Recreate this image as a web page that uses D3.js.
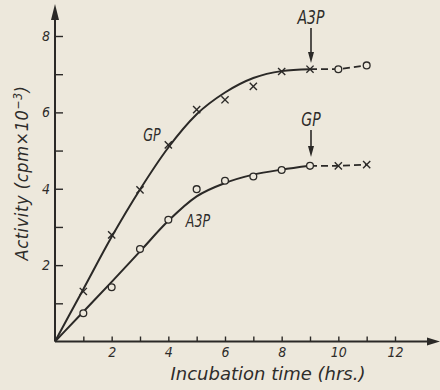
<!DOCTYPE html>
<html>
<head>
<meta charset="utf-8">
<script src="https://cdn.jsdelivr.net/npm/d3@7"></script>
<style>
  html, body { margin: 0; padding: 0; background: #ede8dc; }
  svg { display: block; }
  text { font-family: "DejaVu Sans Condensed", "DejaVu Sans", sans-serif; font-style: italic; fill: #2e2c2a; }
</style>
</head>
<body>
<script>
// Incubation time (hours) at which samples were taken
const times = [1, 2, 3, 4, 5, 6, 7, 8, 9, 10, 11];
// Upper series: GP labelled first, A3P added at 9 h
const gpValues = [1.31, 2.79, 3.97, 5.15, 6.07, 6.33, 6.68, 7.07, 7.13, 7.13, 7.23];
// Lower series: A3P labelled first, GP added at 9 h
const a3pValues = [0.74, 1.42, 2.42, 3.19, 3.99, 4.21, 4.32, 4.49, 4.60, 4.60, 4.63];
// Hand-drawn smooth trend through each series, 0–9 h
const fitTimes = [0, 1, 2, 3, 4, 5, 6, 7, 8, 9];
const gpFit = [0, 1.37, 2.74, 3.98, 5.08, 5.95, 6.52, 6.9, 7.08, 7.13];
const a3pFit = [0, 0.78, 1.56, 2.36, 3.16, 3.8, 4.15, 4.37, 4.5, 4.6];
// Time at which the second label was added
const additionTime = 9;
// Axis ticks
const xTicks = [1, 2, 3, 4, 5, 6, 7, 8, 9, 10, 11, 12];
const yTicks = [1, 2, 3, 4, 5, 6, 7, 8];

const W = 440, H = 390;
const ink = "#2b2927";
const paper = "#ede8dc";

const svg = d3.select("body").append("svg").attr("width", W).attr("height", H);

const x = d3.scaleLinear().domain([0, 12]).range([55, 395]);
const y = d3.scaleLinear().domain([0, 8]).range([341.5, 36]);

// Axes with inward ticks; labels only on even values
const xAxis = d3.axisBottom(x).tickValues(xTicks).tickSizeInner(-5).tickSizeOuter(0).tickPadding(6)
  .tickFormat(d => d % 2 === 0 ? d : "");
const yAxis = d3.axisLeft(y).tickValues(yTicks).tickSizeInner(-8).tickSizeOuter(0).tickPadding(5)
  .tickFormat(d => d % 2 === 0 ? d : "");

const gx = svg.append("g").attr("transform", `translate(0,${y(0)})`).call(xAxis);
const gy = svg.append("g").attr("transform", `translate(${x(0)},0)`).call(yAxis);
[gx, gy].forEach(g => {
  g.select(".domain").remove();
  g.selectAll(".tick line").attr("stroke", ink).attr("stroke-width", 1.4);
  g.selectAll(".tick text").attr("fill", ink).style("font-size", "14px")
    .style("font-family", "\"DejaVu Sans Condensed\", sans-serif").style("font-style", "italic");
});

// Axis lines with arrowheads
svg.append("line").attr("x1", x(0)).attr("y1", y(0)).attr("x2", 430).attr("y2", y(0))
  .attr("stroke", ink).attr("stroke-width", 2);
svg.append("path").attr("d", `M440,${y(0)} L427,${y(0) - 4} L427,${y(0) + 4} Z`).attr("fill", ink);
svg.append("line").attr("x1", x(0)).attr("y1", y(0)).attr("x2", x(0)).attr("y2", 16)
  .attr("stroke", ink).attr("stroke-width", 2);
svg.append("path").attr("d", `M${x(0)},4 L${x(0) - 4},20 L${x(0) + 4},20 Z`).attr("fill", ink);

// Trend curves
const smooth = d3.line().x((d, i) => x(fitTimes[i])).y(d => y(d)).curve(d3.curveMonotoneX);
[gpFit, a3pFit].forEach(fit => {
  svg.append("path").attr("d", smooth(fit)).attr("fill", "none")
    .attr("stroke", ink).attr("stroke-width", 2);
});

// Dashed continuation after the addition
const straight = d3.line().x(d => x(d[0])).y(d => y(d[1]));
[gpValues, a3pValues].forEach(vals => {
  const pts = times.map((t, i) => [t, vals[i]]).filter(p => p[0] >= additionTime);
  svg.append("path").attr("d", straight(pts)).attr("fill", "none")
    .attr("stroke", ink).attr("stroke-width", 1.8).attr("stroke-dasharray", "7,4");
});

// Markers: cross for GP-labelled points, circle for A3P-labelled points
function drawCross(t, v) {
  const cx = x(t), cy = y(v), s = 3.6;
  svg.append("path").attr("d", `M${cx - s},${cy - s}L${cx + s},${cy + s}M${cx - s},${cy + s}L${cx + s},${cy - s}`)
    .attr("stroke", ink).attr("stroke-width", 1.4).attr("fill", "none");
}
function drawCircle(t, v) {
  svg.append("circle").attr("cx", x(t)).attr("cy", y(v)).attr("r", 3.4)
    .attr("fill", paper).attr("stroke", ink).attr("stroke-width", 1.3);
}
times.forEach((t, i) => {
  if (t <= additionTime) drawCross(t, gpValues[i]); else drawCircle(t, gpValues[i]);
  if (t <= additionTime) drawCircle(t, a3pValues[i]); else drawCross(t, a3pValues[i]);
});

// Labels on the curves (condensed lettering)
function label(txt, cx, cy, size) {
  svg.append("text").attr("transform", `translate(${cx},${cy}) scale(0.78,1)`)
    .attr("text-anchor", "middle").attr("dominant-baseline", "central")
    .style("font-size", size + "px").text(txt);
}
label("GP", 152, 135, 18);
label("A3P", 198, 221, 18);
label("A3P", x(additionTime) + 1, 17, 20);
label("GP", x(additionTime) + 1, 119, 20);

// Arrows marking the addition
function downArrow(px, y1, tip) {
  svg.append("line").attr("x1", px).attr("y1", y1).attr("x2", px).attr("y2", tip - 8)
    .attr("stroke", ink).attr("stroke-width", 1.6);
  svg.append("path").attr("d", `M${px},${tip} L${px - 3},${tip - 11} L${px + 3},${tip - 11} Z`).attr("fill", ink);
}
downArrow(x(additionTime) + 1, 28, 63);
downArrow(x(additionTime) + 1, 130, 157);

// Axis titles
svg.append("text").attr("x", 268).attr("y", 380).attr("text-anchor", "middle")
  .style("font-size", "17px").attr("textLength", 195).attr("lengthAdjust", "spacingAndGlyphs")
  .text("Incubation time (hrs.)");

const yt = svg.append("text").attr("transform", "translate(28,173) rotate(-90)")
  .attr("text-anchor", "middle").style("font-size", "18px").attr("letter-spacing", "0.6px");
yt.append("tspan").text("Activity (cpm×10");
yt.append("tspan").attr("dy", -6).style("font-size", "12px").text("−3");
yt.append("tspan").attr("dy", 6).text(")");
</script>
</body>
</html>
